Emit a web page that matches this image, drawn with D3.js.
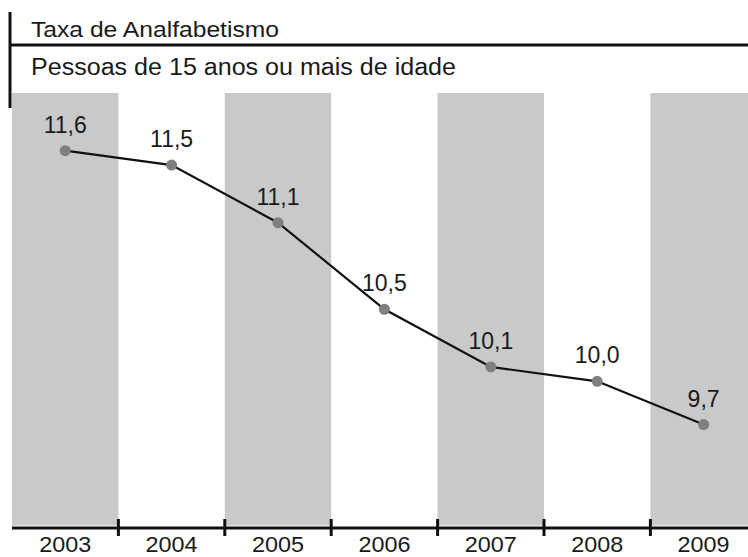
<!DOCTYPE html>
<html>
<head>
<meta charset="utf-8">
<script src="https://cdn.jsdelivr.net/npm/d3@7"></script>
<style>
  html, body { margin: 0; padding: 0; background: #fff; }
  svg { display: block; font-family: "Liberation Sans", Arial, sans-serif; }
</style>
</head>
<body>
<svg id="chart" width="748" height="557"></svg>
<script>
// Data
const years = ["2003", "2004", "2005", "2006", "2007", "2008", "2009"];
const rates = [11.6, 11.5, 11.1, 10.5, 10.1, 10.0, 9.7];
const labels = ["11,6", "11,5", "11,1", "10,5", "10,1", "10,0", "9,7"];
const titleText = "Taxa de Analfabetismo";
const subtitleText = "Pessoas de 15 anos ou mais de idade";

const svg = d3.select("#chart");
const width = 748;

// Scales
const x = d3.scaleBand()
    .domain(years)
    .range([12, 12 + 106.4 * years.length])
    .padding(0);

const y = d3.scaleLinear()
    .domain([9, 12])
    .range([525.5, 93]);

// Alternating gray bands
svg.append("g")
  .selectAll("rect")
  .data(years.filter((d, i) => i % 2 === 0))
  .join("rect")
    .attr("x", d => x(d))
    .attr("y", y(12))
    .attr("width", x.bandwidth())
    .attr("height", y(9) - y(12))
    .attr("fill", "#c9c9c9");

// Header lines
svg.append("line")
    .attr("x1", 10).attr("x2", 10)
    .attr("y1", 12).attr("y2", 108)
    .attr("stroke", "#111").attr("stroke-width", 3);

svg.append("line")
    .attr("x1", 10).attr("x2", width)
    .attr("y1", 45).attr("y2", 45)
    .attr("stroke", "#111").attr("stroke-width", 3);

svg.append("text")
    .attr("x", 31).attr("y", 37)
    .attr("font-size", 22)
    .attr("fill", "#1a1a1a")
    .attr("textLength", 248)
    .attr("lengthAdjust", "spacingAndGlyphs")
    .text(titleText);

svg.append("text")
    .attr("x", 31).attr("y", 75)
    .attr("font-size", 23)
    .attr("fill", "#1a1a1a")
    .attr("textLength", 425)
    .attr("lengthAdjust", "spacingAndGlyphs")
    .text(subtitleText);

// Bottom axis
const axisY = 528;
svg.append("line")
    .attr("x1", 12).attr("x2", width)
    .attr("y1", axisY).attr("y2", axisY)
    .attr("stroke", "#111").attr("stroke-width", 3);

svg.append("g")
  .selectAll("line")
  .data(years.slice(1))
  .join("line")
    .attr("x1", d => x(d)).attr("x2", d => x(d))
    .attr("y1", axisY - 9).attr("y2", axisY + 8)
    .attr("stroke", "#111").attr("stroke-width", 3);

svg.append("g")
  .selectAll("text")
  .data(years)
  .join("text")
    .attr("x", d => x(d) + x.bandwidth() / 2)
    .attr("y", 552)
    .attr("text-anchor", "middle")
    .attr("font-size", 22)
    .attr("fill", "#1a1a1a")
    .attr("textLength", 52)
    .attr("lengthAdjust", "spacingAndGlyphs")
    .text(d => d);

// Line and points
const cx = (d, i) => x(years[i]) + x.bandwidth() / 2;

svg.append("path")
    .datum(rates)
    .attr("fill", "none")
    .attr("stroke", "#111")
    .attr("stroke-width", 2.2)
    .attr("d", d3.line().x(cx).y(d => y(d)));

svg.append("g")
  .selectAll("circle")
  .data(rates)
  .join("circle")
    .attr("cx", cx)
    .attr("cy", d => y(d))
    .attr("r", 5.5)
    .attr("fill", "#7f7f7f");

svg.append("g")
  .selectAll("text")
  .data(rates)
  .join("text")
    .attr("x", cx)
    .attr("y", d => y(d) - 18)
    .attr("text-anchor", "middle")
    .attr("font-size", 23)
    .attr("fill", "#1a1a1a")
    .text((d, i) => labels[i]);
</script>
</body>
</html>
